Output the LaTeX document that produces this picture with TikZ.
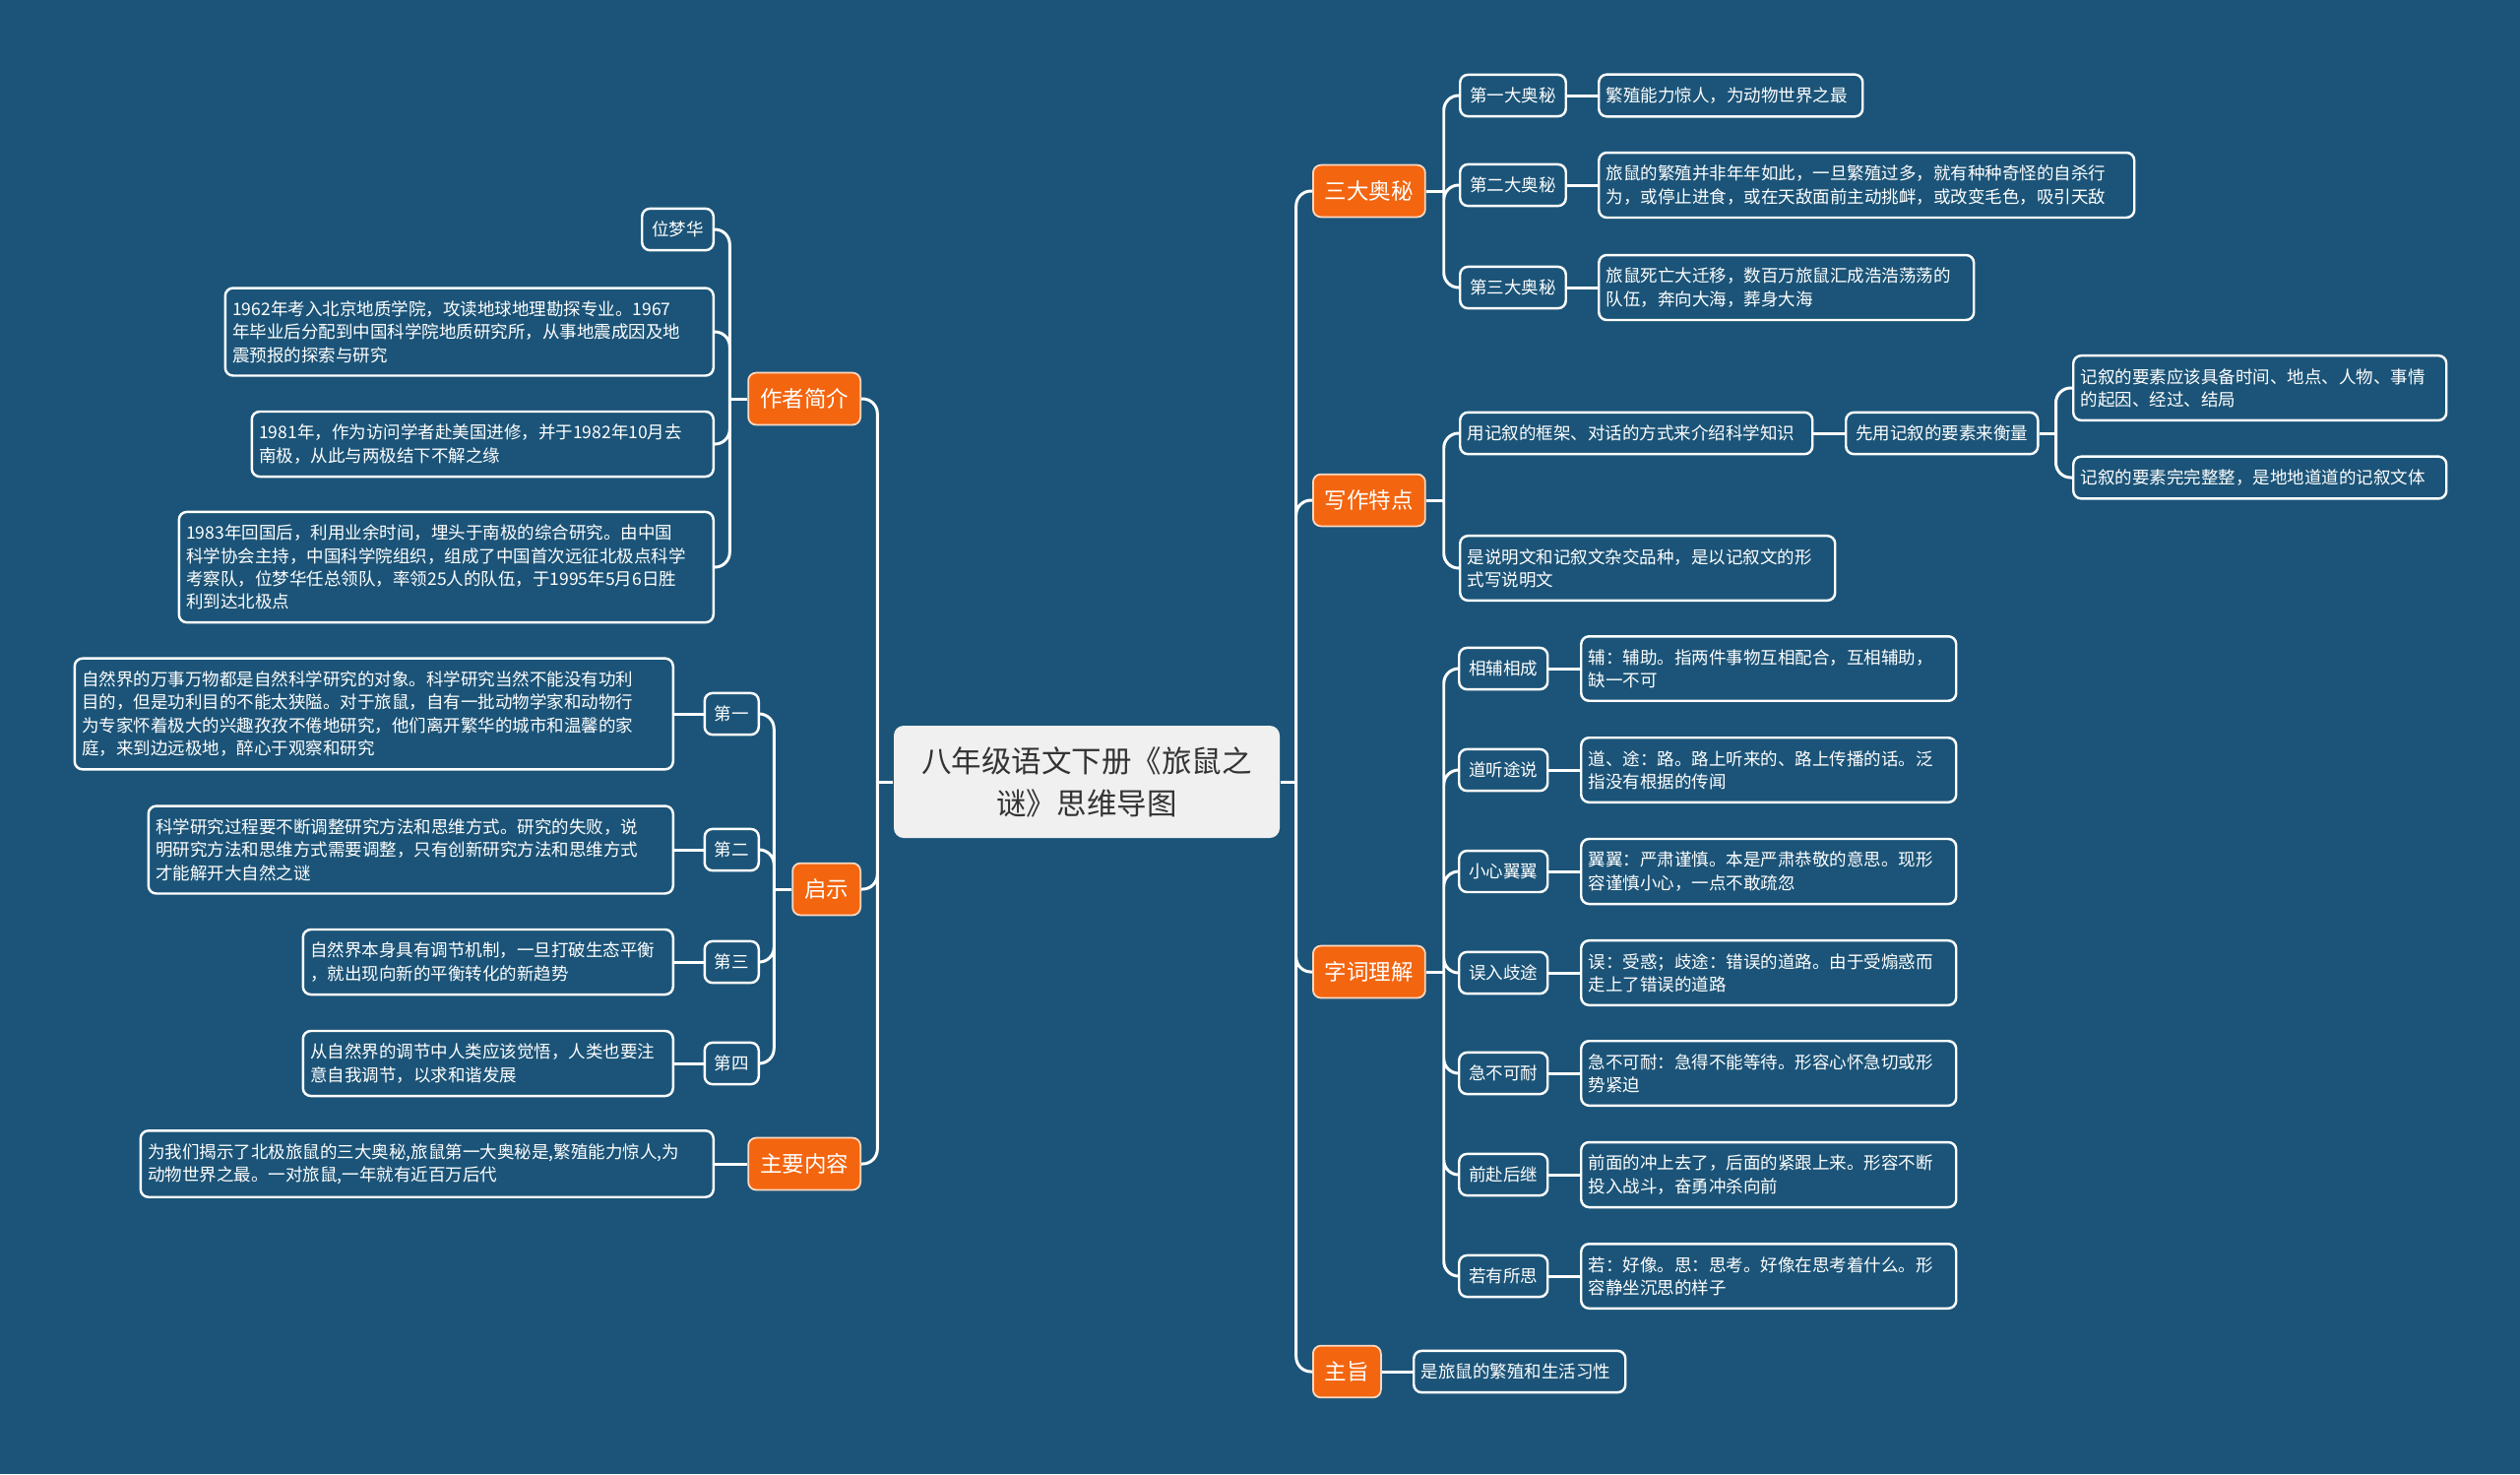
\documentclass[tikz,border=0pt]{standalone}
\usepackage{fontspec}
\setmainfont{Noto Sans CJK SC}
\usepackage{tikz}
\definecolor{mapBlue}{HTML}{1B5478}
\definecolor{mapOrange}{HTML}{F3650F}
\definecolor{mapGray}{HTML}{F0F0F0}
\definecolor{mapText}{HTML}{333333}
\newcommand{\leaffont}{\fontsize{4.98}{6.63}\selectfont}
\tikzset{
  link/.style={draw=white, line width=0.85pt, rounded corners=0.15cm},
  root box/.style={fill=mapGray, text=mapText, rounded corners=0.1cm,
    align=center, minimum width=3.92cm, minimum height=1.14cm,
    inner sep=0pt, font=\fontsize{8.68}{12.2}\selectfont},
  main box/.style={fill=mapOrange, draw=white!75!mapOrange, line width=0.5pt,
    rounded corners=0.08cm, text=white, inner xsep=0.12cm,
    inner ysep=0.16cm, font=\fontsize{6.4}{7.7}\selectfont},
  tag box/.style={draw=white, line width=0.7pt, fill=mapBlue,
    rounded corners=0.08cm, text=white, inner xsep=0.1cm,
    inner ysep=0.13cm, font=\leaffont},
  leaf box/.style={tag box, align=left, inner xsep=0.075cm}
}
\begin{document}
\begin{tikzpicture}
  \fill[mapBlue] (0,0) rectangle (25.6,-14.97);
  \useasboundingbox (0,0) rectangle (25.6,-14.97);

  \node[root box] (root) at (11.04,-7.94) {八年级语文下册《旅鼠之\\谜》思维导图};
  \coordinate (lj) at ([xshift=-1.6mm]root.west);
  \coordinate (rj) at ([xshift=1.6mm]root.east);

  \node[main box, anchor=east] (author) at (8.75,-4.05) {作者简介};
  \node[main box, anchor=east] (insight) at (8.75,-9.03) {启示};
  \node[main box, anchor=east] (summary) at (8.75,-11.82) {主要内容};
  \node[main box, anchor=west] (secrets) at (13.33,-1.94) {三大奥秘};
  \node[main box, anchor=west] (writing) at (13.33,-5.08) {写作特点};
  \node[main box, anchor=west] (words) at (13.33,-9.87) {字词理解};
  \node[main box, anchor=west] (theme) at (13.33,-13.93) {主旨};
  \draw[link] (root.west) -- (lj) (root.east) -- (rj);
  \draw[link] (lj) |- (author.east) (lj) |- (insight.east) (lj) |- (summary.east);
  \draw[link] (rj) |- (secrets.west) (rj) |- (writing.west) (rj) |- (words.west)
    (rj) |- (theme.west);

  % 作者简介
  \coordinate (aj) at ([xshift=-1.8mm]author.west);
  \node[tag box, anchor=east] (a1) at (7.26,-2.33) {位梦华};
  \node[leaf box, anchor=east, text width=4.81cm] (a2) at (7.26,-3.37)
    {1962年考入北京地质学院，攻读地球地理勘探专业。1967\\年毕业后分配到中国科学院地质研究所，从事地震成因及地\\震预报的探索与研究};
  \node[leaf box, anchor=east, text width=4.54cm] (a3) at (7.26,-4.51)
    {1981年，作为访问学者赴美国进修，并于1982年10月去\\南极，从此与两极结下不解之缘};
  \node[leaf box, anchor=east, text width=5.28cm] (a4) at (7.26,-5.76)
    {1983年回国后，利用业余时间，埋头于南极的综合研究。由中国\\科学协会主持，中国科学院组织，组成了中国首次远征北极点科学\\考察队，位梦华任总领队，率领25人的队伍，于1995年5月6日胜\\利到达北极点};
  \draw[link] (author.west) -- (aj);
  \draw[link] (aj) |- (a1.east) (aj) |- (a2.east) (aj) |- (a3.east) (aj) |- (a4.east);

  % 启示
  \coordinate (ij) at ([xshift=-1.8mm]insight.west);
  \node[tag box, anchor=east] (i1) at (7.72,-7.25) {第一};
  \node[tag box, anchor=east] (i2) at (7.72,-8.63) {第二};
  \node[tag box, anchor=east] (i3) at (7.72,-9.77) {第三};
  \node[tag box, anchor=east] (i4) at (7.72,-10.80) {第四};
  \node[leaf box, anchor=east, text width=5.93cm] (it1) at (6.85,-7.25)
    {自然界的万事万物都是自然科学研究的对象。科学研究当然不能没有功利\\目的，但是功利目的不能太狭隘。对于旅鼠，自有一批动物学家和动物行\\为专家怀着极大的兴趣孜孜不倦地研究，他们离开繁华的城市和温馨的家\\庭，来到边远极地，醉心于观察和研究};
  \node[leaf box, anchor=east, text width=5.18cm] (it2) at (6.85,-8.63)
    {科学研究过程要不断调整研究方法和思维方式。研究的失败，说\\明研究方法和思维方式需要调整，只有创新研究方法和思维方式\\才能解开大自然之谜};
  \node[leaf box, anchor=east, text width=3.61cm] (it3) at (6.85,-9.77)
    {自然界本身具有调节机制，一旦打破生态平衡\\，就出现向新的平衡转化的新趋势};
  \node[leaf box, anchor=east, text width=3.61cm] (it4) at (6.85,-10.80)
    {从自然界的调节中人类应该觉悟，人类也要注\\意自我调节，以求和谐发展};
  \draw[link] (insight.west) -- (ij);
  \draw[link] (ij) |- (i1.east) (ij) |- (i2.east) (ij) |- (i3.east) (ij) |- (i4.east);
  \draw[link] (i1.west) -- (it1.east);
  \draw[link] (i2.west) -- (it2.east);
  \draw[link] (i3.west) -- (it3.east);
  \draw[link] (i4.west) -- (it4.east);

  % 主要内容
  \node[leaf box, anchor=east, text width=5.67cm] (sm) at (7.26,-11.82)
    {为我们揭示了北极旅鼠的三大奥秘,旅鼠第一大奥秘是,繁殖能力惊人,为\\动物世界之最。一对旅鼠,一年就有近百万后代};
  \draw[link] (summary.west) -- (sm.east);

  % 三大奥秘
  \coordinate (sj) at ([xshift=1.8mm]secrets.east);
  \node[tag box, anchor=west] (s1) at (14.82,-0.97) {第一大奥秘};
  \node[tag box, anchor=west] (s2) at (14.82,-1.88) {第二大奥秘};
  \node[tag box, anchor=west] (s3) at (14.82,-2.92) {第三大奥秘};
  \node[leaf box, anchor=west, text width=2.53cm] (st1) at (16.23,-0.97) {繁殖能力惊人，为动物世界之最};
  \node[leaf box, anchor=west, text width=5.29cm] (st2) at (16.23,-1.88)
    {旅鼠的繁殖并非年年如此，一旦繁殖过多，就有种种奇怪的自杀行\\为，或停止进食，或在天敌面前主动挑衅，或改变毛色，吸引天敌};
  \node[leaf box, anchor=west, text width=3.66cm] (st3) at (16.23,-2.92)
    {旅鼠死亡大迁移，数百万旅鼠汇成浩浩荡荡的\\队伍，奔向大海，葬身大海};
  \draw[link] (secrets.east) -- (sj);
  \draw[link] (sj) |- (s1.west) (sj) |- (s2.west) (sj) |- (s3.west);
  \draw[link] (s1.east) -- (st1.west);
  \draw[link] (s2.east) -- (st2.west);
  \draw[link] (s3.east) -- (st3.west);

  % 写作特点
  \coordinate (wj) at ([xshift=1.8mm]writing.east);
  \node[leaf box, anchor=west, text width=3.43cm] (w1) at (14.82,-4.40) {用记叙的框架、对话的方式来介绍科学知识};
  \node[leaf box, anchor=west, text width=3.66cm] (w2) at (14.82,-5.77)
    {是说明文和记叙文杂交品种，是以记叙文的形\\式写说明文};
  \node[tag box, anchor=west] (w11) at (18.74,-4.40) {先用记叙的要素来衡量};
  \coordinate (wwj) at ([xshift=1.7mm]w11.east);
  \node[leaf box, anchor=west, text width=3.64cm] (w111) at (21.05,-3.94)
    {记叙的要素应该具备时间、地点、人物、事情\\的起因、经过、结局};
  \node[leaf box, anchor=west, text width=3.64cm] (w112) at (21.05,-4.85) {记叙的要素完完整整，是地地道道的记叙文体};
  \draw[link] (writing.east) -- (wj);
  \draw[link] (wj) |- (w1.west) (wj) |- (w2.west);
  \draw[link] (w1.east) -- (w11.west);
  \draw[link] (w11.east) -- (wwj);
  \draw[link] (wwj) |- (w111.west) (wwj) |- (w112.west);

  % 字词理解
  \coordinate (kj) at ([xshift=1.8mm]words.east);
  \node[tag box, anchor=west] (k1) at (14.81,-6.79) {相辅相成};
  \node[tag box, anchor=west] (k2) at (14.81,-7.82) {道听途说};
  \node[tag box, anchor=west] (k3) at (14.81,-8.85) {小心翼翼};
  \node[tag box, anchor=west] (k4) at (14.81,-9.88) {误入歧途};
  \node[tag box, anchor=west] (k5) at (14.81,-10.90) {急不可耐};
  \node[tag box, anchor=west] (k6) at (14.81,-11.93) {前赴后继};
  \node[tag box, anchor=west] (k7) at (14.81,-12.96) {若有所思};
  \node[leaf box, anchor=west, text width=3.66cm] (kt1) at (16.05,-6.79)
    {辅：辅助。指两件事物互相配合，互相辅助，\\缺一不可};
  \node[leaf box, anchor=west, text width=3.66cm] (kt2) at (16.05,-7.82)
    {道、途：路。路上听来的、路上传播的话。泛\\指没有根据的传闻};
  \node[leaf box, anchor=west, text width=3.66cm] (kt3) at (16.05,-8.85)
    {翼翼：严肃谨慎。本是严肃恭敬的意思。现形\\容谨慎小心，一点不敢疏忽};
  \node[leaf box, anchor=west, text width=3.66cm] (kt4) at (16.05,-9.88)
    {误：受惑；歧途：错误的道路。由于受煽惑而\\走上了错误的道路};
  \node[leaf box, anchor=west, text width=3.66cm] (kt5) at (16.05,-10.90)
    {急不可耐：急得不能等待。形容心怀急切或形\\势紧迫};
  \node[leaf box, anchor=west, text width=3.66cm] (kt6) at (16.05,-11.93)
    {前面的冲上去了，后面的紧跟上来。形容不断\\投入战斗，奋勇冲杀向前};
  \node[leaf box, anchor=west, text width=3.66cm] (kt7) at (16.05,-12.96)
    {若：好像。思：思考。好像在思考着什么。形\\容静坐沉思的样子};
  \draw[link] (words.east) -- (kj);
  \draw[link] (kj) |- (k1.west) (kj) |- (k2.west) (kj) |- (k3.west) (kj) |- (k4.west)
    (kj) |- (k5.west) (kj) |- (k6.west) (kj) |- (k7.west);
  \draw[link] (k1.east) -- (kt1.west);
  \draw[link] (k2.east) -- (kt2.west);
  \draw[link] (k3.east) -- (kt3.west);
  \draw[link] (k4.east) -- (kt4.west);
  \draw[link] (k5.east) -- (kt5.west);
  \draw[link] (k6.east) -- (kt6.west);
  \draw[link] (k7.east) -- (kt7.west);

  % 主旨
  \node[leaf box, anchor=west, text width=2.00cm] (th) at (14.35,-13.93) {是旅鼠的繁殖和生活习性};
  \draw[link] (theme.east) -- (th.west);
\end{tikzpicture}
\end{document}
